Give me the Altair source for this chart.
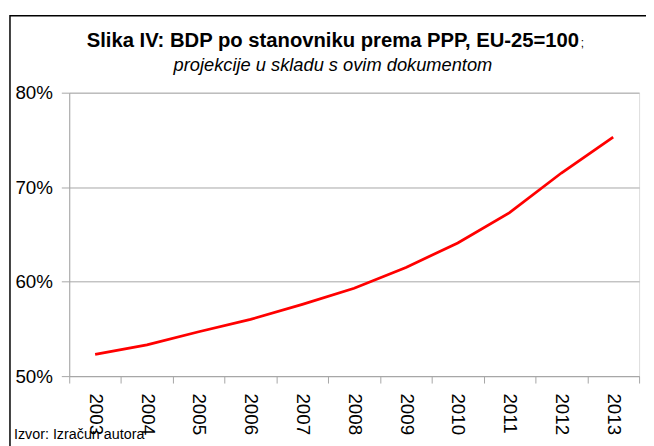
import altair as alt
import pandas as pd

years = ["2003", "2004", "2005", "2006", "2007", "2008", "2009", "2010", "2011", "2012", "2013"]
gdp_pct = [52.3, 53.3, 54.7, 56.0, 57.6, 59.3, 61.5, 64.1, 67.3, 71.5, 75.3]
y_ticks = [50, 60, 70, 80]

title_main = "Slika IV: BDP po stanovniku prema PPP, EU-25=100"
title_semi = ";"
subtitle = "projekcije u skladu s ovim dokumentom"
source = "Izvor: Izračun autora"

FONT = "Liberation Sans"
GRID = "#a6a6a6"

df = pd.DataFrame({"year": years, "value": gdp_pct})
one = pd.DataFrame({"k": [0]})

line = alt.Chart(df).mark_line(color="#ff0000", strokeWidth=2.8).encode(
    x=alt.X(
        "year:O",
        sort=years,
        scale=alt.Scale(type="band", paddingInner=0, paddingOuter=0),
        axis=alt.Axis(
            title=None,
            labelAngle=90,
            labelAlign="left",
            labelBaseline="middle",
            labelFont=FONT,
            labelFontSize=19,
            labelColor="black",
            labelPadding=10,
            tickBand="extent",
            tickSize=7,
            tickColor=GRID,
            domainColor=GRID,
            grid=False,
        ),
    ),
    y=alt.Y(
        "value:Q",
        scale=alt.Scale(domain=[50, 80], nice=False, zero=False),
        axis=alt.Axis(
            title=None,
            values=y_ticks,
            labelExpr="datum.value + '%'",
            labelFont=FONT,
            labelFontSize=19,
            labelColor="black",
            labelPadding=9,
            tickSize=8,
            tickColor=GRID,
            domainColor=GRID,
            grid=True,
            gridColor=GRID,
        ),
    ),
)

frame = alt.Chart(one).mark_rect(fillOpacity=0, stroke="black", strokeWidth=1.5).encode(
    x=alt.value(-60), x2=alt.value(720), y=alt.value(-78), y2=alt.value(520)
)

t_main = alt.Chart(one).mark_text(
    text=title_main, font=FONT, fontSize=20.5, fontWeight="bold", align="center", baseline="alphabetic", color="black"
).encode(x=alt.value(267), y=alt.value(-46))

t_semi = alt.Chart(one).mark_text(
    text=title_semi, font=FONT, fontSize=12, align="left", baseline="alphabetic", color="black"
).encode(x=alt.value(518), y=alt.value(-46))

t_sub = alt.Chart(one).mark_text(
    text=subtitle, font=FONT, fontSize=18.5, fontStyle="italic", align="center", baseline="alphabetic", color="black"
).encode(x=alt.value(267), y=alt.value(-22))

t_src = alt.Chart(one).mark_text(
    text=source, font=FONT, fontSize=14.5, align="left", baseline="alphabetic", color="black"
).encode(x=alt.value(-56), y=alt.value(351))

chart = alt.layer(frame, line, t_main, t_semi, t_sub, t_src).properties(
    width=577,
    height=287,
    autosize="none",
    padding={"left": 62, "top": 83, "right": 7, "bottom": 68},
).configure_view(stroke=GRID, strokeWidth=1).configure(background="white")

chart.save("out.html", embed_options={"renderer": "svg", "actions": False})
